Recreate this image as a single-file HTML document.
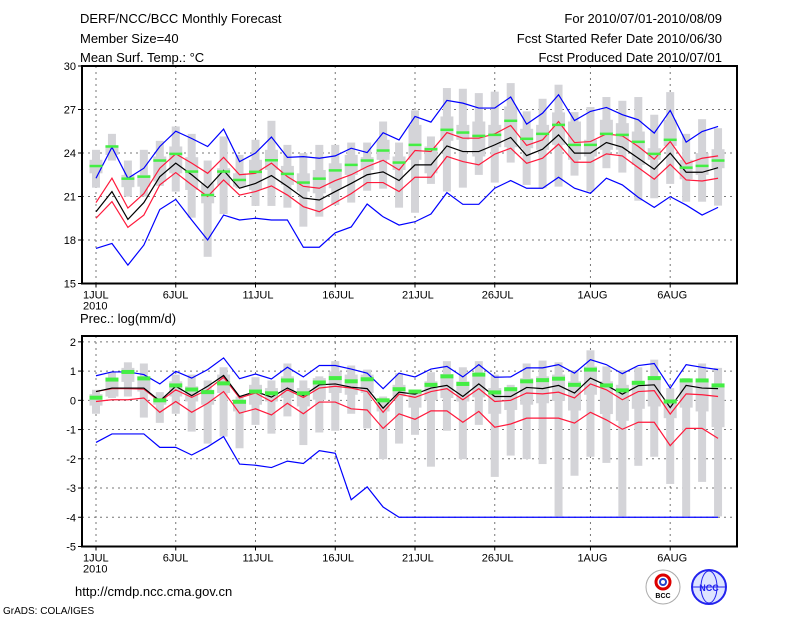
<!DOCTYPE html>
<html><head><meta charset="utf-8"><style>
body{margin:0;background:#fff;width:800px;height:618px;overflow:hidden}
svg{display:block;font-family:"Liberation Sans",sans-serif}
</style></head><body>
<svg id="c" width="800" height="618">
<text x="80" y="23" font-size="13">DERF/NCC/BCC Monthly Forecast</text>
<text x="80" y="43" font-size="13">Member Size=40</text>
<text x="80" y="62" font-size="13">Mean Surf. Temp.: °C</text>
<text x="722" y="23" font-size="13" text-anchor="end">For 2010/07/01-2010/08/09</text>
<text x="722" y="43" font-size="13" text-anchor="end">Fcst Started Refer Date 2010/06/30</text>
<text x="722" y="62" font-size="13" text-anchor="end">Fcst Produced Date 2010/07/01</text>
<text x="80" y="323" font-size="13">Prec.: log(mm/d)</text>
<text x="75" y="596" font-size="13">http://cmdp.ncc.cma.gov.cn</text>
<text x="3" y="614" font-size="10">GrADS: COLA/IGES</text>
<g><circle cx="663" cy="587" r="17" fill="#fff" stroke="#aaa"/><circle cx="663" cy="582" r="7" fill="none" stroke="#d00" stroke-width="3"/><circle cx="663" cy="582" r="3" fill="none" stroke="#24c" stroke-width="2"/><text x="663" y="598" font-size="7" text-anchor="middle" font-weight="bold">BCC</text></g>
<g><circle cx="709" cy="587" r="17" fill="#dde4ff" stroke="#22e" stroke-width="2"/><ellipse cx="709" cy="587" rx="8" ry="16" fill="none" stroke="#22e"/><line x1="692" y1="587" x2="726" y2="587" stroke="#22e"/><text x="709" y="591" font-size="9" text-anchor="middle" fill="#22e" font-weight="bold">NCC</text></g>
</svg>
<script>
const days=["1JUL","6JUL","11JUL","16JUL","21JUL","26JUL","1AUG","6AUG"];
const dayIdx=[0,5,10,15,20,25,31,36];
const tTicks=[15,18,21,24,27,30];
const pTicks=[-5,-4,-3,-2,-1,0,1,2];
const tMean=[19.95,21.34,19.42,20.58,22.37,23.3,22.5,21.6,22.8,21.57,21.9,22.44,21.7,20.9,20.76,21.34,21.9,22.5,22.7,22.1,23.18,23.18,24.49,24.1,24.1,24.56,25.07,23.82,24.26,25.25,23.99,23.99,24.72,24.4,23.64,22.88,23.99,22.67,22.67,22.99];
const tRedHi=[20.58,22.26,20.2,21.2,22.95,23.94,23.3,22.6,23.7,22.5,22.6,23.3,22.37,21.7,21.57,22.1,22.5,23.06,23.5,22.83,24.17,24.1,25.41,25.02,25.02,25.32,25.9,24.52,24.91,26.17,24.72,24.79,25.32,25.18,24.45,23.57,24.79,23.25,23.64,23.8];
const tRedLo=[19.5,20.65,18.87,19.72,21.8,22.65,21.8,21.0,22.14,21.1,21.34,21.73,21.1,20.3,19.95,20.58,21.2,21.96,21.96,21.34,22.33,22.33,23.76,23.41,23.18,23.92,24.33,23.29,23.64,24.61,23.36,23.36,23.94,23.8,22.99,22.19,23.22,22.14,22.07,22.26];
const tBlueHi=[22.26,24.4,22.26,22.95,24.45,25.5,25.0,24.45,25.65,23.4,24.0,25.1,23.7,23.75,23.64,23.8,24.33,24.03,25.4,24.9,26.52,26.13,27.63,27.44,27.1,27.1,27.86,25.99,26.75,28.02,26.24,26.87,27.14,26.64,26.29,25.37,26.94,24.75,25.48,25.83];
const tBlueLo=[17.42,17.76,16.27,17.65,20.1,20.8,19.38,18.0,19.72,19.38,19.5,19.38,19.38,17.5,17.5,18.5,18.9,20.48,19.6,19.03,19.26,19.79,21.27,20.46,20.46,21.57,22.1,21.57,21.57,22.33,21.57,21.22,22.26,21.8,20.94,20.25,20.99,20.41,19.72,20.25];
const tObs=[23.1,24.45,22.23,22.37,23.48,23.94,22.72,21.1,22.72,22.14,22.7,23.5,22.56,21.96,22.23,22.8,23.18,23.48,24.17,23.34,24.56,24.26,25.6,25.41,25.18,25.25,26.22,24.98,25.32,25.94,24.56,24.56,25.32,25.25,24.77,23.94,24.91,22.99,23.11,23.48];
const tWHi=[24.22,25.32,23.48,24.22,24.84,25.83,25.32,23.48,25.14,23.87,24.91,26.22,24.56,23.99,24.56,24.56,24.72,24.72,26.17,24.72,26.94,25.14,28.48,28.43,28.13,28.23,28.82,26.87,27.74,28.71,26.82,27.17,27.86,27.6,27.86,26.64,28.2,25.32,26.33,25.71];
const tWLo=[21.61,23.48,20.99,20.99,21.73,21.34,19.54,16.84,19.79,21.57,20.35,20.35,20.23,18.92,19.61,20.41,20.58,21.4,21.54,20.23,19.88,21.87,21.34,21.61,22.49,21.96,23.34,21.8,21.57,21.68,22.44,21.34,22.95,22.65,20.71,20.88,21.87,20.64,20.64,20.37];
const tBHi=[23.53,24.49,22.49,22.49,23.76,24.45,23.71,21.91,22.95,22.6,23.53,24.22,23.11,22.6,22.83,23.29,23.87,23.71,24.91,23.76,25.94,24.45,26.52,25.94,26.17,25.94,27.21,25.67,25.94,26.8,26.17,24.91,26.29,26.06,25.48,24.33,26.29,23.53,23.99,24.26];
const tBLo=[22.6,23.87,21.64,21.68,22.03,22.6,21.45,20.53,21.8,21.68,21.45,22.83,21.8,21.34,21.22,21.57,22.49,22.83,23.53,22.83,23.53,22.6,24.84,24.91,23.76,24.4,24.4,24.33,24.22,24.56,23.53,23.76,24.22,24.22,23.18,23.53,24.49,22.19,22.49,22.95];
const pMean=[0.3,0.42,0.42,0.42,-0.02,0.48,0.16,0.48,0.85,0.13,0.3,0.11,0.42,0.16,0.53,0.56,0.45,0.4,-0.27,0.28,0.21,0.42,0.51,0.13,0.56,0.13,0.13,0.44,0.4,0.51,0.25,0.76,0.51,0.21,0.5,0.53,-0.25,0.51,0.42,0.4];
const pRedHi=[0.3,0.4,0.4,0.38,-0.04,0.36,0.1,0.36,0.79,0.08,0.25,-0.04,0.36,0.1,0.42,0.48,0.42,0.3,-0.41,0.21,0.1,0.3,0.4,0.02,0.4,-0.04,0.0,0.25,0.22,0.28,0.08,0.56,0.36,0.02,0.3,0.33,-0.47,0.22,0.19,0.13];
const pRedLo=[-0.04,0.02,0.02,0.08,-0.41,-0.04,-0.41,-0.1,0.3,-0.44,-0.29,-0.5,-0.1,-0.46,-0.06,-0.06,-0.29,-0.33,-0.96,-0.46,-0.65,-0.36,-0.36,-0.75,-0.38,-0.92,-0.81,-0.61,-0.61,-0.61,-0.78,-0.41,-0.67,-0.99,-0.75,-0.75,-1.55,-0.96,-0.96,-1.3];
const pBlueHi=[0.84,0.97,0.97,0.88,0.56,0.99,0.76,1.05,1.45,0.74,0.9,0.73,1.13,0.8,1.19,1.19,1.07,0.93,0.4,0.93,0.8,1.07,1.16,0.8,1.22,0.79,0.8,1.11,1.11,1.22,0.93,1.39,1.22,0.91,1.19,1.26,0.42,1.22,1.13,1.05];
const pBlueLo=[-1.44,-1.15,-1.15,-1.15,-1.61,-1.61,-1.87,-1.59,-1.24,-2.18,-2.22,-2.3,-2.08,-2.16,-1.72,-1.81,-3.4,-2.96,-3.65,-4.0,-4.0,-4.0,-4.0,-4.0,-4.0,-4.0,-4.0,-4.0,-4.0,-4.0,-4.0,-4.0,-4.0,-4.0,-4.0,-4.0,-4.0,-4.0,-4.0,-4.0];
const pObs=[0.09,0.71,0.97,0.75,0.0,0.51,0.37,0.28,0.58,-0.05,0.3,0.24,0.68,0.24,0.61,0.76,0.65,0.72,0.0,0.38,0.3,0.53,0.82,0.56,0.88,0.27,0.38,0.65,0.69,0.74,0.53,1.05,0.51,0.34,0.6,0.76,-0.04,0.68,0.68,0.51];
const pWHi=[0.36,0.97,1.3,1.26,0.28,0.88,0.88,0.68,1.13,0.13,0.79,0.68,1.26,0.68,0.82,1.34,1.19,1.05,0.13,0.93,0.36,0.96,1.34,1.13,1.34,0.88,0.53,1.26,1.36,1.3,1.03,1.71,1.16,1.03,1.13,1.39,0.42,0.76,1.26,1.11];
const pWLo=[-0.46,0.08,0.13,-0.59,-0.77,-0.46,-1.07,-1.48,-1.24,-1.64,-0.84,-1.14,-0.55,-1.53,-1.1,-1.04,-0.46,-0.96,-2.01,-1.48,-1.18,-2.27,-1.04,-2.01,-0.84,-2.62,-1.89,-2.01,-2.18,-3.97,-2.58,-1.93,-2.14,-3.97,-2.24,-1.93,-2.86,-3.97,-2.79,-3.97];
const pBHi=[0.21,0.65,1.11,0.82,0.13,0.65,0.48,0.36,0.88,0.02,0.53,0.42,0.82,0.42,0.76,0.99,0.88,0.88,0.02,0.53,0.3,0.65,0.9,0.65,0.9,0.42,0.42,0.76,0.82,0.88,0.65,1.16,0.65,0.53,0.65,0.82,-0.04,0.65,0.68,0.48];
const pBLo=[-0.18,0.13,0.63,0.3,-0.15,0.13,-0.04,-0.15,0.25,-0.38,-0.15,-0.04,0.08,-0.21,0.02,0.25,0.19,0.25,-0.38,0.13,-0.25,0.0,0.08,-0.04,0.1,-0.46,-0.33,-0.15,-0.1,-0.02,-0.35,0.19,-0.47,-0.7,-0.29,-0.21,-0.61,-0.25,-0.38,-0.92];

const NS="http://www.w3.org/2000/svg";
const svg=document.getElementById('c');
const L=82,R=737;
const X=i=>96+i*15.95;
function mk(tag,at){const e=document.createElementNS(NS,tag);for(const k in at)e.setAttribute(k,at[k]);svg.appendChild(e);return e;}
function panel(p,top,bot,vmin,vmax,ticks){
  const Y=v=>bot-(v-vmin)/(vmax-vmin)*(bot-top);
  const frame=mk('rect',{x:L,y:top,width:R-L,height:bot-top,fill:'#fff'});
  
  
  ticks.forEach(t=>{const y=Y(t);
    if(t>vmin&&t<vmax){const g=mk('line',{x1:L,x2:R,y1:y,y2:y,stroke:'#777','stroke-dasharray':'2,4'});
      
      }
    mk('line',{x1:L-4,x2:L,y1:y,y2:y,stroke:'#000'});
    const tx=mk('text',{x:L-6,y:y+4,'font-size':11,'text-anchor':'end'});tx.textContent=t;
    
    });
  dayIdx.forEach((d,k)=>{const x=X(d);
    const g=mk('line',{x1:x,x2:x,y1:top,y2:bot,stroke:'#777','stroke-dasharray':'2,4'});
    
    
    mk('line',{x1:x,x2:x,y1:bot,y2:bot+4,stroke:'#000'});
    const tx=mk('text',{x:x-13,y:bot+15,'font-size':11});tx.textContent=days[k];
    
    });
  const yr=mk('text',{x:X(0)-13,y:bot+26,'font-size':11});yr.textContent='2010';
  
  
  p.wHi.forEach((h,i)=>{const x=X(i);
    const w=mk('rect',{x:x-4,y:Y(h),width:8,height:Y(p.wLo[i])-Y(h),fill:'#d4d4d8'});
    
    
    const b=mk('rect',{x:x-6.5,y:Y(p.bHi[i]),width:13,height:Y(p.bLo[i])-Y(p.bHi[i]),fill:'#d4d4d8'});
    
    });
  const line=(arr,col,nm)=>{const e=mk('polyline',{points:arr.map((v,i)=>X(i)+','+Y(v)).join(' '),fill:'none',stroke:col,'stroke-width':1.2});
    
    };
  line(p.blueLo,'#0000ff',p.name+'-min-line');line(p.blueHi,'#0000ff',p.name+'-max-line');
  line(p.redLo,'#ff1a3c',p.name+'-lower-line');line(p.redHi,'#ff1a3c',p.name+'-upper-line');
  line(p.mean,'#000',p.name+'-mean-line');
  p.obs.forEach((v,i)=>{const m=mk('rect',{x:X(i)-6.5,y:Y(v)-p.oh/2,width:13,height:p.oh,fill:'#44ee44'});
    
    });
  const fr=mk('rect',{x:L,y:top,width:R-L,height:bot-top,fill:'none',stroke:'#000','stroke-width':2});
  
  
}
panel({name:'temp',mean:tMean,redHi:tRedHi,redLo:tRedLo,blueHi:tBlueHi,blueLo:tBlueLo,obs:tObs,wHi:tWHi,wLo:tWLo,bHi:tBHi,bLo:tBLo,oh:2.5},66,283.5,15,30,tTicks);
panel({name:'prec',mean:pMean,redHi:pRedHi,redLo:pRedLo,blueHi:pBlueHi,blueLo:pBlueLo,obs:pObs,wHi:pWHi,wLo:pWLo,bHi:pBHi,bLo:pBLo,oh:4},336,546.5,-5,2.2,pTicks);
</script>
</body></html>
